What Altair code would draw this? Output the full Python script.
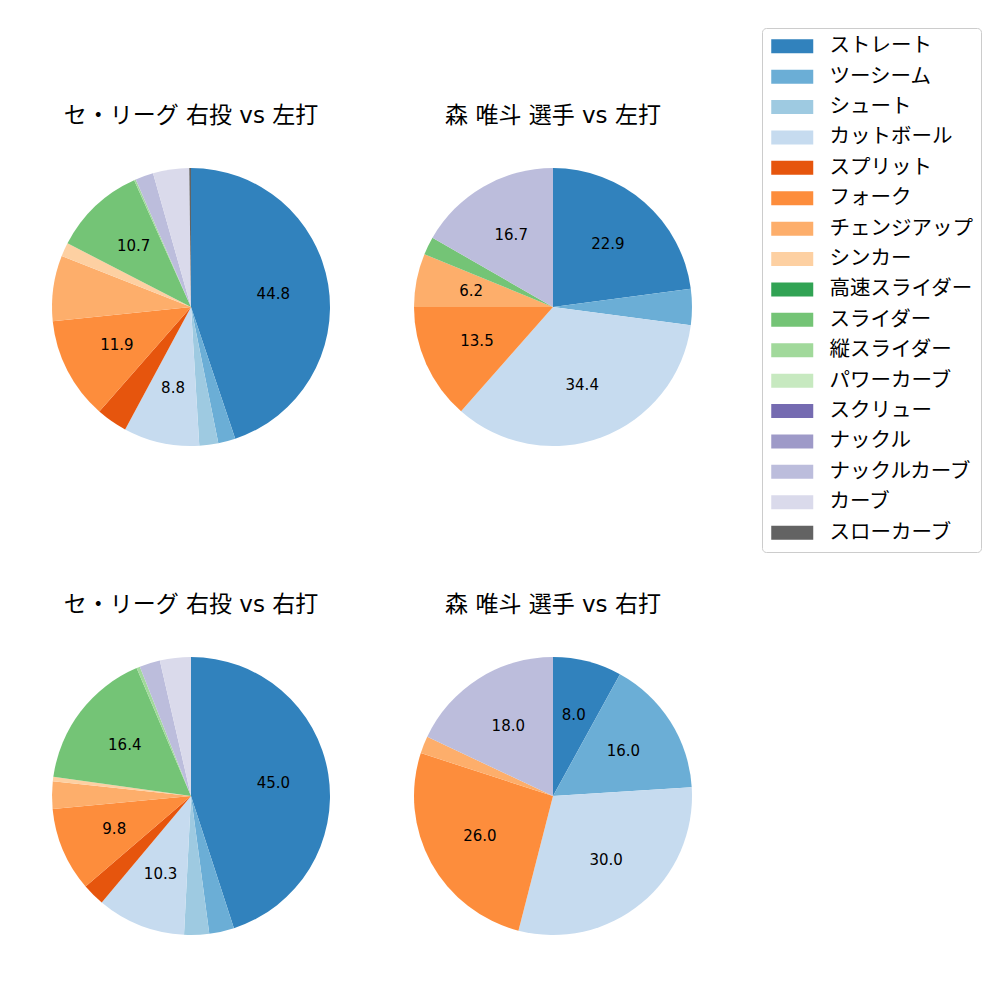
import altair as alt
import pandas as pd

pitches = ["ストレート", "ツーシーム", "シュート", "カットボール", "スプリット", "フォーク",
           "チェンジアップ", "シンカー", "高速スライダー", "スライダー", "縦スライダー",
           "パワーカーブ", "スクリュー", "ナックル", "ナックルカーブ", "カーブ", "スローカーブ"]
colors = ["#3182bd", "#6baed6", "#9ecae1", "#c6dbef", "#e6550d", "#fd8d3c", "#fdae6b",
          "#fdd0a2", "#31a354", "#74c476", "#a1d99b", "#c7e9c0", "#756bb1", "#9e9ac8",
          "#bcbddc", "#dadaeb", "#636363"]

titles = ["セ・リーグ 右投 vs 左打", "森 唯斗 選手 vs 左打",
          "セ・リーグ 右投 vs 右打", "森 唯斗 選手 vs 右打"]

# percentages, in the order of `pitches`
league_vs_left = [44.8, 2.0, 2.2, 8.8, 3.6, 11.9, 7.6, 1.6, 0, 10.7, 0.2, 0, 0, 0, 2.1, 4.2, 0.2]
mori_vs_left = [22.9, 4.2, 0, 34.4, 0, 13.5, 6.2, 0, 0, 2.1, 0, 0, 0, 0, 16.7, 0, 0]
league_vs_right = [45.0, 2.9, 2.9, 10.3, 2.6, 9.8, 3.2, 0.5, 0, 16.4, 0.4, 0, 0, 0, 2.4, 3.6, 0]
mori_vs_right = [8.0, 16.0, 0, 30.0, 0, 26.0, 2.0, 0, 0, 0, 0, 0, 0, 0, 18.0, 0, 0]

labeled = [
    ["ストレート", "カットボール", "フォーク", "スライダー"],
    ["ストレート", "カットボール", "フォーク", "チェンジアップ", "ナックルカーブ"],
    ["ストレート", "カットボール", "フォーク", "スライダー"],
    ["ストレート", "ツーシーム", "カットボール", "フォーク", "ナックルカーブ"],
]

series = [league_vs_left, mori_vs_left, league_vs_right, mori_vs_right]

rows = []
for c, vals in enumerate(series):
    for i, (p, v) in enumerate(zip(pitches, vals)):
        if v > 0:
            rows.append({"chart": c, "pitch": p, "idx": i, "value": v,
                         "label": f"{v:.1f}" if p in labeled[c] else ""})
df = pd.DataFrame(rows)

FONT = "DejaVu Sans, Noto Sans CJK JP"

color = alt.Color(
    "pitch:N",
    scale=alt.Scale(domain=pitches, range=colors),
    legend=alt.Legend(
        title=None, orient="none", legendX=721, legendY=-129,
        symbolType="M-1.286,-1H4.714V1H-1.286Z", symbolSize=196, symbolStrokeWidth=0,
        symbolOpacity=1,
        labelFont="Noto Sans CJK JP", labelFontSize=20.5, labelColor="black",
        labelOffset=39, labelLimit=400, rowPadding=9.4, padding=8,
        strokeColor="#cccccc", fillColor="white", cornerRadius=4,
    ),
)


def panel(c):
    base = alt.Chart(df).transform_filter(alt.datum.chart == c).encode(
        theta=alt.Theta("value:Q", stack="normalize"),
        order=alt.Order("idx:Q"),
    )
    arcs = base.mark_arc(radius=139).encode(color=color)
    text = base.mark_text(radius=83.4, font="DejaVu Sans", fontSize=15, color="black").encode(
        detail="pitch:N", text=alt.Text("label:N")
    )
    return alt.layer(arcs, text).properties(
        width=300, height=300,
        title=alt.TitleParams(titles[c], font=FONT, fontSize=23, fontWeight="normal",
                              color="black", anchor="middle", baseline="bottom", offset=6),
    )


chart = alt.vconcat(
    alt.hconcat(panel(0), panel(1), spacing=62),
    alt.hconcat(panel(2), panel(3), spacing=62),
    spacing=137,
).properties(
    padding={"left": 33, "top": 19, "right": 5, "bottom": 5}
).configure_view(strokeWidth=0)

chart.save("out.html", embed_options={"renderer": "svg", "actions": False})
